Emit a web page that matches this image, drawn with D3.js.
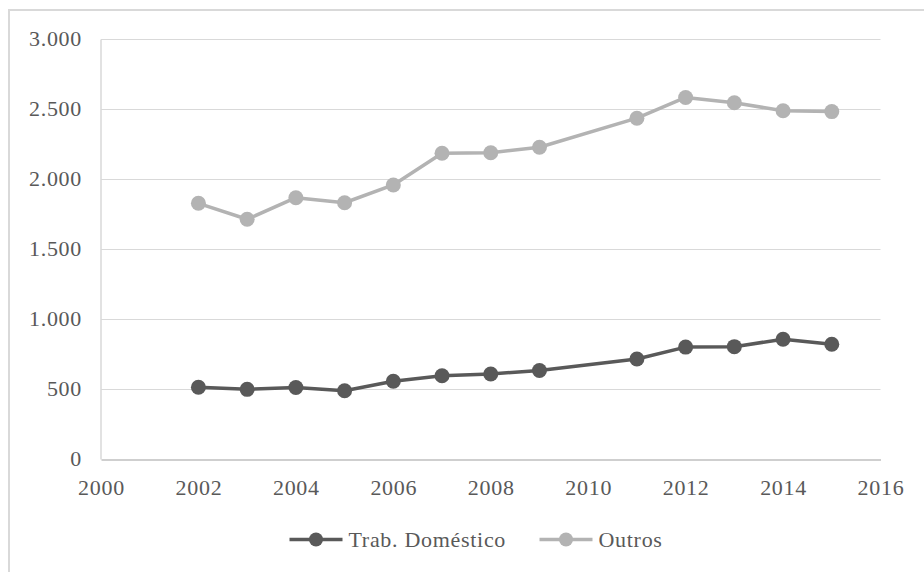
<!DOCTYPE html>
<html>
<head>
<meta charset="utf-8">
<script src="https://cdn.jsdelivr.net/npm/d3@7"></script>
<style>
  html, body { margin: 0; padding: 0; background: #fff; }
  svg { display: block; }
  text { font-family: "Liberation Serif", "Times New Roman", serif; fill: #595959; letter-spacing: 0.7px; }
</style>
</head>
<body>
<svg id="chart" width="924" height="572"></svg>
<script>
const years = [2002, 2003, 2004, 2005, 2006, 2007, 2008, 2009, 2011, 2012, 2013, 2014, 2015];
const trabDomestico = [516, 501, 514, 491, 559, 598, 611, 636, 718, 803, 806, 859, 823];
const outros = [1830, 1716, 1870, 1834, 1961, 2187, 2191, 2230, 2438, 2586, 2548, 2491, 2485];
const seriesNames = ["Trab. Doméstico", "Outros"];
const yTicks = [0, 500, 1000, 1500, 2000, 2500, 3000];
const xTicks = [2000, 2002, 2004, 2006, 2008, 2010, 2012, 2014, 2016];

(function () {
const colors = ["#595959", "#b3b3b3"];
const svg = d3.select("#chart");
const fs = 22;

// outer chart border (left & top visible, extends beyond edges)
svg.append("rect")
  .attr("x", 9).attr("y", 10).attr("width", 930).attr("height", 580)
  .attr("fill", "none").attr("stroke", "#d9d9d9").attr("stroke-width", 2);

const pL = 101, pR = 880.5, pT = 39.5, pB = 459.5;
const x = d3.scaleLinear().domain([2000, 2016]).range([pL, pR]);
const y = d3.scaleLinear().domain([0, 3000]).range([pB, pT]);

const loc = d3.formatLocale({decimal: ",", thousands: ".", grouping: [3], currency: ["", ""]});
const fmt = loc.format(",.0f");

// gridlines
svg.append("g").selectAll("line").data(yTicks.filter(d => d > 0)).join("line")
  .attr("x1", pL).attr("x2", pR)
  .attr("y1", d => y(d)).attr("y2", d => y(d))
  .attr("stroke", "#d9d9d9").attr("stroke-width", 1);

// left axis line
svg.append("line").attr("x1", pL).attr("x2", pL).attr("y1", pT).attr("y2", pB)
  .attr("stroke", "#d9d9d9").attr("stroke-width", 1.5);

// y axis
const yAxis = d3.axisLeft(y).tickValues(yTicks).tickFormat(fmt).tickSize(0).tickPadding(19);
const gy = svg.append("g").attr("transform", `translate(${pL},0)`).call(yAxis);
gy.select(".domain").remove();
gy.selectAll("text").attr("font-size", fs).attr("font-family", "Liberation Serif").attr("fill", "#595959").attr("dy", "0.27em");

// x axis
const xAxis = d3.axisBottom(x).tickValues(xTicks).tickFormat(d3.format("d")).tickSize(0).tickPadding(20);
const gx = svg.append("g").attr("transform", `translate(0,${pB})`).call(xAxis);
gx.select(".domain").attr("stroke", "#bfbfbf").attr("stroke-width", 1.5);
gx.selectAll("text").attr("font-size", fs).attr("font-family", "Liberation Serif").attr("fill", "#595959").attr("dy", "0.7em");

const data = [trabDomestico, outros];
const line = d3.line().x((d, i) => x(years[i])).y(d => y(d));

data.forEach((vals, si) => {
  const g = svg.append("g");
  g.append("path").datum(vals).attr("d", line)
    .attr("fill", "none").attr("stroke", colors[si]).attr("stroke-width", 3.5)
    .attr("stroke-linejoin", "round");
  g.selectAll("circle").data(vals).join("circle")
    .attr("cx", (d, i) => x(years[i])).attr("cy", d => y(d)).attr("r", 7.5)
    .attr("fill", colors[si]);
});

// legend
const leg = svg.append("g");
const legY = 539.5;
const starts = [289.5, 539.5];
seriesNames.forEach((name, i) => {
  const sx = starts[i];
  leg.append("line").attr("x1", sx).attr("x2", sx + 53).attr("y1", legY).attr("y2", legY)
    .attr("stroke", colors[i]).attr("stroke-width", 3.5);
  leg.append("circle").attr("cx", sx + 26.5).attr("cy", legY).attr("r", 7)
    .attr("fill", colors[i]);
  leg.append("text").attr("x", sx + 59).attr("y", 546.5)
    .attr("font-size", fs).text(name);
});
})();
</script>
</body>
</html>
